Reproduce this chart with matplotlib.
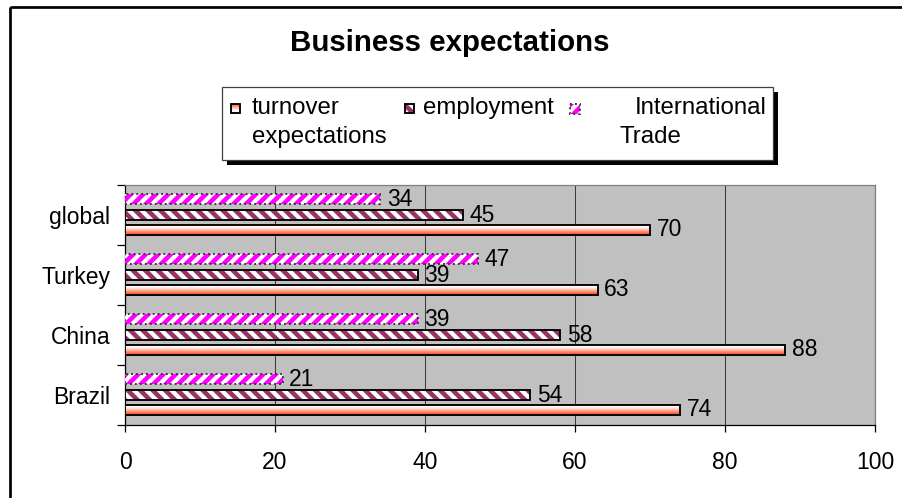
import numpy as np
import matplotlib
matplotlib.use('Agg')
import matplotlib.pyplot as plt
from matplotlib.patches import Rectangle
from matplotlib.colors import LinearSegmentedColormap

plt.rcParams['font.family'] = ['Liberation Sans', 'DejaVu Sans']
plt.rcParams['hatch.linewidth'] = 2.2

# survey results, bottom to top
countries = ['Brazil', 'China', 'Turkey', 'global']
turnover = [74, 88, 63, 70]
employment = [54, 58, 39, 45]
intl_trade = [21, 39, 47, 34]
series_names = ['turnover\nexpectations', 'employment', 'International\nTrade']

W, H, DPI = 902, 498, 150
fig = plt.figure(figsize=(W / DPI, H / DPI), dpi=DPI)
fig.patch.set_facecolor('white')

ax = fig.add_axes([125 / W, 1 - 425 / H, 750 / W, 240 / H])
ax.set_facecolor('#c0c0c0')

grad_cmap = LinearSegmentedColormap.from_list(
    'salmon', ['#ff5536', '#ff9078', '#ffd2c4', '#ffffff', '#fff2ee'])
grad = np.linspace(0, 1, 64).reshape(-1, 1)

y = np.arange(len(countries))
h = 0.16
off_turn, off_emp, off_intl = -0.245, 0.0, 0.265


def gradient_bar(a, x0, y0, w, hh):
    r = Rectangle((x0, y0), w, hh, facecolor='none', edgecolor='black', lw=0.9, zorder=4)
    a.add_patch(r)
    im = a.imshow(grad, cmap=grad_cmap, aspect='auto', extent=(x0, x0 + w, y0 + hh, y0),
                  zorder=3, interpolation='bilinear')
    im.set_clip_path(r)
    return r


def hatch_bar(a, x0, y0, w, hh, color, pattern, edge='black', ls='-'):
    a.add_patch(Rectangle((x0, y0), w, hh, facecolor='white', edgecolor=color,
                          hatch=pattern, lw=0, zorder=3))
    a.add_patch(Rectangle((x0, y0), w, hh, facecolor='none', edgecolor=edge,
                          lw=0.9, ls=ls, zorder=4))


for i in range(len(countries)):
    yt = y[i] + off_turn
    gradient_bar(ax, 0, yt - h / 2, turnover[i], h)
    ax.text(turnover[i] + 0.9, yt, str(turnover[i]), va='center', ha='left', fontsize=11)

    ye = y[i] + off_emp
    hatch_bar(ax, 0, ye - h / 2, employment[i], h, '#993366', '\\\\\\\\')
    ax.text(employment[i] + 0.9, ye, str(employment[i]), va='center', ha='left', fontsize=11)

    yi = y[i] + off_intl
    hatch_bar(ax, 0, yi - h / 2, intl_trade[i], h, '#ff00ff', '////', edge='#333333', ls=':')
    ax.text(intl_trade[i] + 0.9, yi, str(intl_trade[i]), va='center', ha='left', fontsize=11)

ax.set_xlim(0, 100)
ax.set_ylim(-0.5, len(countries) - 0.5)
ax.set_xticks(np.arange(0, 101, 20))
ax.tick_params(axis='x', length=3.5, width=0.6, pad=9, labelsize=11, direction='out')
ax.set_yticks(y)
ax.set_yticklabels(countries)
ax.tick_params(axis='y', which='major', length=0, pad=7, labelsize=11)
ax.set_yticks(np.arange(-0.5, len(countries), 1), minor=True)
ax.tick_params(axis='y', which='minor', length=3.8, width=0.6, direction='out')
ax.grid(axis='x', color='#3a3a3a', lw=0.5)
ax.set_axisbelow(True)
for s in ['top', 'right']:
    ax.spines[s].set_color('#808080')
    ax.spines[s].set_linewidth(0.6)
for s in ['left', 'bottom']:
    ax.spines[s].set_color('black')
    ax.spines[s].set_linewidth(0.6)

# overlay in pixel coordinates: frame, title, legend
ov = fig.add_axes([0, 0, 1, 1])
ov.set_xlim(0, W)
ov.set_ylim(H, 0)
ov.axis('off')
ov.patch.set_alpha(0)

ov.add_patch(Rectangle((9.5, 6.5), W, H, facecolor='none', edgecolor='black', lw=1.3))
ov.text(450, 43, 'Business expectations', ha='center', va='center',
        fontsize=14.2, fontweight='bold')

# legend box with drop shadow
ov.add_patch(Rectangle((227, 92), 551, 73, facecolor='black', lw=0))
ov.add_patch(Rectangle((222, 87), 551, 73, facecolor='white', edgecolor='#404040', lw=0.6))

gradient_bar(ov, 231, 104, 9, 9)
hatch_bar(ov, 405, 104, 9, 9, '#993366', '\\\\\\\\')
hatch_bar(ov, 570, 104, 10, 10, '#ff00ff', '////', edge='#333333', ls=':')

lab_turn = series_names[0].split('\n')
lab_intl = series_names[2].split('\n')
ov.text(252, 108, lab_turn[0], ha='left', va='center', fontsize=11.5)
ov.text(252, 137, lab_turn[1], ha='left', va='center', fontsize=11.5)
ov.text(423, 108, series_names[1], ha='left', va='center', fontsize=11.5)
ov.text(635, 108, lab_intl[0], ha='left', va='center', fontsize=11.5)
ov.text(620, 137, lab_intl[1], ha='left', va='center', fontsize=11.5)

fig.savefig('out.png', dpi=DPI)
